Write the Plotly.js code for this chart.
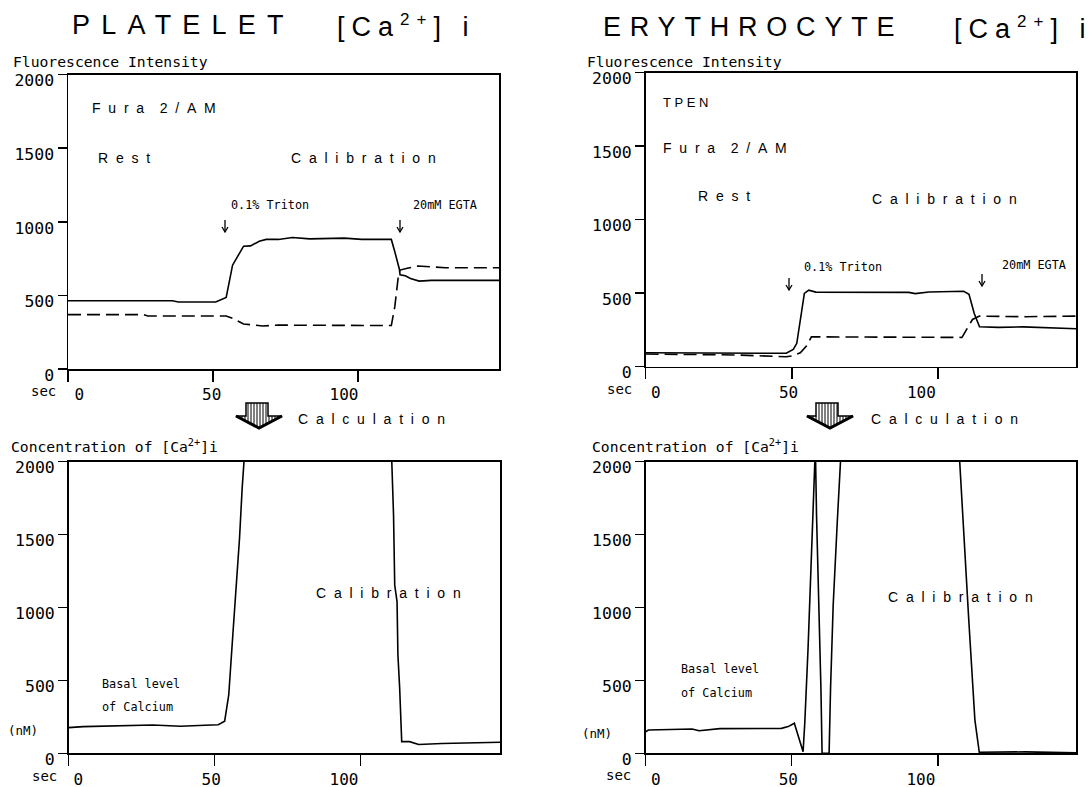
<!DOCTYPE html>
<html><head><meta charset="utf-8">
<script src="https://cdn.plot.ly/plotly-3.0.1.min.js"></script>
<style>html,body{margin:0;padding:0;background:#fff}#chart{width:1092px;height:787px}</style>
</head><body><div id="chart"></div>
<script>
// ---------- DATA ----------
// Platelet fluorescence (top-left)
const plateletSolidTime = [0, 36, 38, 50.9, 54.5, 56.7, 60.5, 62.9, 65.9, 68.3, 72.5, 77.3, 83.3, 95.2, 101.2, 111.4, 112.6, 114.2, 114.4, 116.2, 118, 121, 125.2, 148.5];
const plateletSolidFluor = [463, 463, 455, 455, 486, 705, 834, 836, 868, 880, 880, 893, 884, 889, 880, 880, 796, 676, 640, 633, 615, 597, 602, 602];
const plateletDashTime = [0, 26, 27.5, 54.5, 56.7, 60.5, 67.1, 72.5, 111.4, 112.6, 113.8, 114.4, 116.9, 120.5, 130, 148.5];
const plateletDashFluor = [369, 369, 360, 360, 344, 306, 292, 298, 295, 423, 627, 672, 684, 699, 688, 688];
// Erythrocyte fluorescence (top-right)
const erySolidTime = [0, 48.1, 50.5, 51.7, 54.3, 55.8, 58.2, 75, 90, 92.2, 94, 96.9, 108.8, 110.6, 112.4, 114.2, 120.7, 129.1, 147.3];
const erySolidFluor = [95, 91, 118, 159, 498, 520, 507, 505, 505, 497, 500, 508, 513, 493, 362, 271, 267, 271, 258];
const eryDashTime = [0, 30.2, 48.1, 50.5, 52.9, 55.0, 56.7, 80, 108.2, 110.0, 111.8, 114.2, 130, 147.3];
const eryDashFluor = [86, 80, 68, 75, 95, 140, 203, 199, 199, 260, 321, 344, 340, 344];
// Platelet [Ca2+]i concentration (bottom-left), nM
const plateletConcTime = [0, 5, 28.8, 38.4, 46.7, 51.3, 53.5, 54.9, 56.3, 57.4, 58.6, 59.5, 60.1, 61.5, 109.5, 110.8, 111.4, 111.8, 112.6, 112.9, 113.5, 114.2, 116.9, 120, 128, 148];
const plateletConc = [176, 183, 194, 186, 192, 196, 220, 400, 811, 1132, 1475, 1818, 2000, 2400, 2400, 2000, 1634, 1154, 1040, 674, 446, 80, 80, 60, 67, 76];
// Erythrocyte [Ca2+]i concentration (bottom-right), nM
const eryConcTime = [0, 1, 15.9, 18.3, 25.4, 46.5, 48.8, 50.9, 53.9, 54.5, 55.6, 56.8, 57.6, 58.1, 58.5, 59.4, 60, 60.4, 62.8, 63.3, 64.2, 65.6, 66.8, 67.5, 106.5, 107.5, 110.6, 112.7, 114.2, 120, 125, 130, 147.3];
const eryConc = [148, 160, 167, 155, 169, 171, 183, 206, 11, 217, 720, 1360, 1749, 2100, 1634, 1017, 446, 0, 0, 446, 1017, 1588, 2000, 2300, 2300, 2000, 914, 228, 7, 8, 6, 10, 3];
// Tick labels
const xTicks = [0, 50, 100];
const xTickText = ['0', '50', '100'];
const yTicks = [0, 500, 1000, 1500, 2000];
const yTickText = ['0', '500', '1000', '1500', '2000'];

// ---------- LAYOUT HELPERS ----------
const W = 1092, H = 787;
const X = p => p / W;
const Y = p => 1 - p / H;
const MONO = 'DejaVu Sans Mono, Liberation Mono, monospace';
const ARIAL = 'Liberation Sans, Arial, sans-serif';
const sp = (s, n) => s.split('').join('\u00a0'.repeat(n));

const axBase = {showgrid: false, zeroline: false, fixedrange: true};
function xa(d0, d1, r, anchor) {
  return Object.assign({domain: [X(d0), X(d1)], range: [0, r], anchor: anchor, tickvals: xTicks,
    showticklabels: false, ticks: 'outside', ticklen: 11, tickwidth: 1.5, tickcolor: '#000',
    showline: true, mirror: true, linewidth: 1.5, linecolor: '#000'}, axBase);
}
// label-only x axes (the printed labels sit slightly off the tick marks)
function xl(d0, d1, r0, r1, anchor, over) {
  return Object.assign({domain: [X(d0), X(d1)], range: [r0, r1], anchor: anchor, overlaying: over,
    tickvals: xTicks, ticktext: xTickText, ticks: 'outside', ticklen: 11, tickcolor: 'rgba(0,0,0,0)',
    showline: false, tickfont: {family: MONO, size: 16, color: '#000'}}, axBase);
}
function ya(top, bot, anchor) {
  return Object.assign({domain: [Y(bot), Y(top)], range: [0, 2000], anchor: anchor,
    tickvals: yTicks, ticktext: yTickText, ticklabelshift: 6,
    ticks: 'outside', ticklen: 9, tickwidth: 1.5, tickcolor: '#000',
    showline: true, mirror: true, linewidth: 1.5, linecolor: '#000',
    tickfont: {family: MONO, size: 16.5, color: '#000'}}, axBase);
}
const solid = {color: '#000', width: 1.6};
const dashed = {color: '#000', width: 1.6, dash: '13px,6px'};

const traces = [
  {x: plateletSolidTime, y: plateletSolidFluor, xaxis: 'x', yaxis: 'y', mode: 'lines', line: solid},
  {x: plateletDashTime, y: plateletDashFluor, xaxis: 'x', yaxis: 'y', mode: 'lines', line: dashed},
  {x: erySolidTime, y: erySolidFluor, xaxis: 'x2', yaxis: 'y2', mode: 'lines', line: solid},
  {x: eryDashTime, y: eryDashFluor, xaxis: 'x2', yaxis: 'y2', mode: 'lines', line: dashed},
  {x: plateletConcTime, y: plateletConc, xaxis: 'x3', yaxis: 'y3', mode: 'lines', line: solid},
  {x: eryConcTime, y: eryConc, xaxis: 'x4', yaxis: 'y4', mode: 'lines', line: solid},
  // empty traces that register the label-only axes
  {x: [], y: [], xaxis: 'x5', yaxis: 'y', mode: 'lines', hoverinfo: 'skip'},
  {x: [], y: [], xaxis: 'x6', yaxis: 'y2', mode: 'lines', hoverinfo: 'skip'},
  {x: [], y: [], xaxis: 'x7', yaxis: 'y3', mode: 'lines', hoverinfo: 'skip'},
  {x: [], y: [], xaxis: 'x8', yaxis: 'y4', mode: 'lines', hoverinfo: 'skip'}
];

const spacing = [];
function ann(text, x, y, size, family, ls) {
  spacing.push(ls || 0);
  return {text: text, x: X(x), y: Y(y), xref: 'paper', yref: 'paper', showarrow: false,
    xanchor: 'left', yanchor: 'middle', align: 'left', borderpad: 0,
    font: {family: family, size: size, color: '#000'}};
}
const CA = '[Ca<sup><span style="font-size:17px">2+</span></sup>] i';
const annotations = [
  ann('PLATELET', 71, 25, 27, ARIAL, 11.2),
  ann(CA, 336, 26, 27, ARIAL, 7),
  ann('ERYTHROCYTE', 602, 27, 27, ARIAL, 8.8),
  ann(CA, 953, 28, 27, ARIAL, 7),
  ann('Fluorescence Intensity', 12, 62, 14.7, MONO),
  ann('Fluorescence Intensity', 586, 62, 14.7, MONO),
  ann('Concentration of [Ca<sup>2+</sup>]i', 10, 445, 14.7, MONO),
  ann('Concentration of [Ca<sup>2+</sup>]i', 591, 445, 14.7, MONO),
  // top-left
  ann(sp('Fura', 2) + '\u00a0\u00a0\u00a0\u00a0' + sp('2/AM', 2), 91, 108, 14, ARIAL),
  ann(sp('Rest', 2), 97, 158, 14, ARIAL),
  ann(sp('Calibration', 2), 290, 158, 14, ARIAL),
  ann('0.1% Triton', 230, 205, 11.8, MONO),
  ann('20mM EGTA', 412, 205, 11.8, MONO),
  // top-right
  ann(sp('TPEN', 1), 662, 103, 13, ARIAL),
  ann(sp('Fura', 2) + '\u00a0\u00a0\u00a0\u00a0' + sp('2/AM', 2), 662, 148, 14, ARIAL),
  ann(sp('Rest', 2), 697, 196, 14, ARIAL),
  ann(sp('Calibration', 2), 871, 199, 14, ARIAL),
  ann('0.1% Triton', 803, 267, 11.8, MONO),
  ann('20mM EGTA', 1001, 265, 11.8, MONO),
  // calculation
  ann(sp('Calculation', 2), 297, 419, 14, ARIAL),
  ann(sp('Calculation', 2), 870, 419, 14, ARIAL),
  // bottom-left
  ann(sp('Calibration', 2), 315, 593, 14, ARIAL),
  ann('Basal level', 101, 684, 11.8, MONO),
  ann('of Calcium', 101, 707, 11.8, MONO),
  ann('(nM)', 7, 730, 12.5, MONO),
  // bottom-right
  ann(sp('Calibration', 2), 887, 597, 14, ARIAL),
  ann('Basal level', 680, 669, 11.8, MONO),
  ann('of Calcium', 680, 693, 11.8, MONO),
  ann('(nM)', 581, 733, 12.5, MONO),
  // sec labels
  ann('sec', 30, 391, 14, MONO),
  ann('sec', 606, 389, 14, MONO),
  ann('sec', 31, 776, 14, MONO),
  ann('sec', 605, 775, 14, MONO)
];

const P = (x, y) => X(x) + ',' + Y(y);
// small "↓" pointer marks
function pointer(x, y0, y1) {
  return [
    {type: 'line', xref: 'paper', yref: 'paper', x0: X(x), x1: X(x), y0: Y(y0), y1: Y(y1), line: {color: '#000', width: 1.3}},
    {type: 'path', xref: 'paper', yref: 'paper', line: {color: '#000', width: 1.3},
      path: 'M' + P(x - 3, y1 - 5) + 'L' + P(x, y1) + 'L' + P(x + 3, y1 - 5)}
  ];
}
// hatched down-arrows
function arrowShapes(sx1, sx2, top, hx1, hx2, base, tip) {
  const tx = (hx1 + hx2) / 2;
  const shapes = [{type: 'path', xref: 'paper', yref: 'paper', line: {color: '#000', width: 1.5},
    fillcolor: 'rgba(0,0,0,0)',
    path: 'M' + P(sx1, top) + 'L' + P(sx2, top) + 'L' + P(sx2, base) + 'L' + P(hx2, base) + 'L' + P(tx, tip) + 'L' + P(hx1, base) + 'L' + P(sx1, base) + 'Z'}];
  for (let x = hx1 + 3; x < hx2 - 1; x += 3) {
    const half = (hx2 - hx1) / 2;
    const yb = base + (tip - base) * (1 - Math.abs(x - tx) / half);
    const yt = (x > sx1 && x < sx2) ? top : base;
    if (yb - yt < 1) continue;
    shapes.push({type: 'line', xref: 'paper', yref: 'paper', x0: X(x), x1: X(x), y0: Y(yt), y1: Y(yb),
      line: {color: '#000', width: 1}});
  }
  shapes.push({type: 'path', xref: 'paper', yref: 'paper', line: {color: '#000', width: 3},
    path: 'M' + P(hx1, base) + 'L' + P(tx, tip) + 'L' + P(hx2, base)});
  return shapes;
}
const shapes = [].concat(
  arrowShapes(246, 268, 403, 236, 282, 416, 428),
  arrowShapes(816, 838, 403, 807, 853, 416, 428),
  pointer(225, 220, 232), pointer(400, 220, 232),
  pointer(789, 278, 290), pointer(982, 274, 286)
);

const layout = {
  width: W, height: H, margin: {l: 0, r: 0, t: 0, b: 0},
  paper_bgcolor: '#fff', plot_bgcolor: '#fff', showlegend: false,
  xaxis: xa(68, 499, 148.5, 'y'),
  yaxis: ya(74.5, 369, 'x'),
  xaxis2: xa(645.6, 1076.3, 147.3, 'y2'),
  yaxis2: ya(72.5, 366.7, 'x2'),
  xaxis3: xa(68.6, 500.3, 148, 'y3'),
  yaxis3: ya(461.7, 753.3, 'x3'),
  xaxis4: xa(645.6, 1076, 147.3, 'y4'),
  yaxis4: ya(461.7, 753.3, 'x4'),
  xaxis5: xl(68, 499, -4.27, 158.56, 'y', 'x'),
  xaxis6: xl(645.6, 1076.3, -3.8, 158.3, 'y2', 'x2'),
  xaxis7: xl(68.6, 500.3, -3.65, 158.8, 'y3', 'x3'),
  xaxis8: xl(645.6, 1076, -3.81, 158.5, 'y4', 'x4'),
  annotations: annotations,
  shapes: shapes
};
Plotly.newPlot('chart', traces, layout, {displayModeBar: false, staticPlot: true}).then(function () {
  const nodes = document.querySelectorAll('#chart .annotation-text');
  nodes.forEach(function (n, i) {
    if (spacing[i]) n.style.letterSpacing = spacing[i] + 'px';
  });
});
</script></body></html>
